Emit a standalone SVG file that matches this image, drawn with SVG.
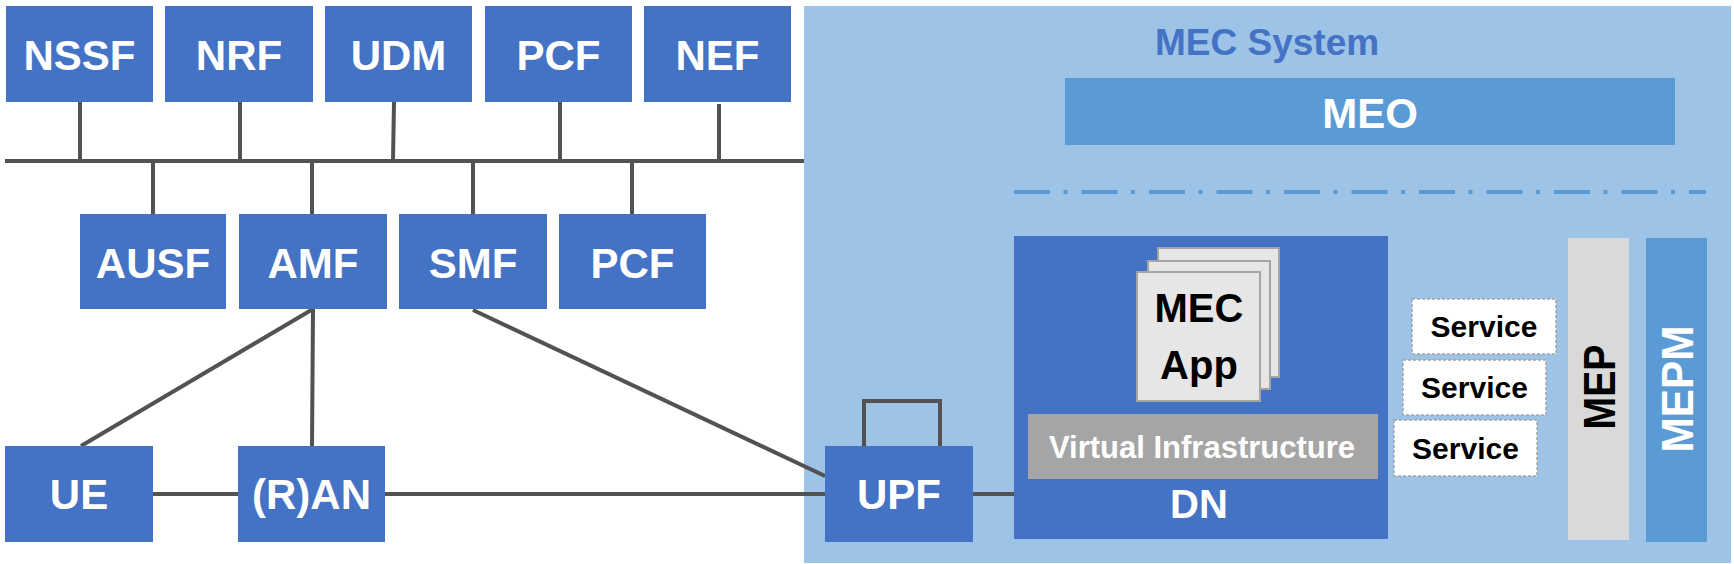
<svg xmlns="http://www.w3.org/2000/svg" width="1734" height="564" viewBox="0 0 1734 564">
<defs>
<style>
.nf{fill:#4472C4}
.lbl{font-family:"Liberation Sans",Arial,sans-serif;font-weight:bold;fill:#FFFFFF;text-anchor:middle;font-size:42px}
.blk{font-family:"Liberation Sans",Arial,sans-serif;font-weight:bold;fill:#000000;text-anchor:middle}
.con{stroke:#525252;stroke-width:4;fill:none}
.page{fill:#E7E6E6;stroke:#A5A5A5;stroke-width:2}
.svc{fill:#FFFFFF;stroke:#A5A5A5;stroke-width:1.5;stroke-dasharray:3 2}
</style>
</defs>
<rect id="mec-system-bg" x="804" y="6" width="927" height="557" fill="#9DC3E6"/>
<g id="connectors">
<line class="con" x1="5" y1="161" x2="804" y2="161"/>
<line class="con" x1="80" y1="102" x2="80" y2="161"/>
<line class="con" x1="240" y1="100" x2="240" y2="161"/>
<line class="con" x1="394" y1="102" x2="393" y2="161"/>
<line class="con" x1="560" y1="102" x2="560" y2="161"/>
<line class="con" x1="719" y1="104" x2="719" y2="161"/>
<line class="con" x1="153" y1="161" x2="153" y2="215"/>
<line class="con" x1="312" y1="161" x2="312" y2="214"/>
<line class="con" x1="473" y1="161" x2="473" y2="214"/>
<line class="con" x1="632" y1="161" x2="632" y2="214"/>
<line class="con" x1="313" y1="309" x2="81" y2="446"/>
<line class="con" x1="313" y1="309" x2="312" y2="446"/>
<line class="con" x1="473" y1="310" x2="825" y2="476"/>
<line class="con" x1="153" y1="494" x2="238" y2="494"/>
<line class="con" x1="385" y1="494" x2="825" y2="494"/>
<line class="con" x1="973" y1="494" x2="1014" y2="494"/>
<path class="con" d="M864,448 V401 H940 V451"/>
</g>
<g id="nssf"><rect class="nf" x="6" y="6" width="147" height="96"/><text class="lbl" x="79.5" y="70">NSSF</text></g>
<g id="nrf"><rect class="nf" x="165" y="6" width="148" height="96"/><text class="lbl" x="239" y="70">NRF</text></g>
<g id="udm"><rect class="nf" x="325" y="6" width="147" height="96"/><text class="lbl" x="398.5" y="70">UDM</text></g>
<g id="pcf-top"><rect class="nf" x="485" y="6" width="147" height="96"/><text class="lbl" x="558.5" y="70">PCF</text></g>
<g id="nef"><rect class="nf" x="644" y="6" width="147" height="96"/><text class="lbl" x="717.5" y="70">NEF</text></g>
<g id="ausf"><rect class="nf" x="80" y="214" width="146" height="95"/><text class="lbl" x="153" y="278">AUSF</text></g>
<g id="amf"><rect class="nf" x="239" y="214" width="148" height="95"/><text class="lbl" x="313" y="278">AMF</text></g>
<g id="smf"><rect class="nf" x="399" y="214" width="148" height="95"/><text class="lbl" x="473" y="278">SMF</text></g>
<g id="pcf-mid"><rect class="nf" x="559" y="214" width="147" height="95"/><text class="lbl" x="632.5" y="278">PCF</text></g>
<g id="ue"><rect class="nf" x="5" y="446" width="148" height="96"/><text class="lbl" x="79" y="509">UE</text></g>
<g id="ran"><rect class="nf" x="238" y="446" width="147" height="96"/><text class="lbl" x="311.5" y="509">(R)AN</text></g>
<g id="upf"><rect class="nf" x="825" y="446" width="148" height="96"/><text class="lbl" x="899" y="509">UPF</text></g>
<g id="mec-system-title"><text x="1155" y="55" font-family="Liberation Sans, Arial, sans-serif" font-weight="bold" font-size="37" fill="#4472C4">MEC System</text></g>
<g id="meo"><rect x="1065" y="78" width="610" height="67" fill="#5B9BD5"/><text class="lbl" x="1370" y="128">MEO</text></g>
<g id="separator"><line x1="1014" y1="192" x2="1706" y2="192" stroke="#5B9BD5" stroke-width="4" stroke-dasharray="36 13.5 4 14"/></g>
<g id="dn">
<rect class="nf" x="1014" y="236" width="374" height="303"/>
<rect class="page" x="1158" y="248" width="121" height="129"/>
<rect class="page" x="1148" y="261" width="122" height="128"/>
<rect class="page" x="1137" y="272" width="123" height="129"/>
<text class="blk" x="1199" y="322" font-size="40">MEC</text>
<text class="blk" x="1199" y="379" font-size="40">App</text>
<rect x="1028" y="414" width="350" height="65" fill="#A5A5A5"/>
<text class="lbl" x="1202" y="458" font-size="31" style="font-size:31px">Virtual Infrastructure</text>
<text class="lbl" x="1199" y="518" style="font-size:40px">DN</text>
</g>
<g id="service-1"><rect class="svc" x="1412" y="299" width="144" height="55"/><text class="blk" x="1484" y="337" font-size="30">Service</text></g>
<g id="service-2"><rect class="svc" x="1403" y="360" width="143" height="55"/><text class="blk" x="1474.5" y="398" font-size="30">Service</text></g>
<g id="service-3"><rect class="svc" x="1394" y="420" width="143" height="56"/><text class="blk" x="1465.5" y="459" font-size="30">Service</text></g>
<g id="mep"><rect x="1568" y="238" width="61" height="302" fill="#D9D9D9"/><text class="blk" transform="translate(1615,387) rotate(-90)" x="0" y="0" font-size="44" textLength="85" lengthAdjust="spacingAndGlyphs">MEP</text></g>
<g id="mepm"><rect x="1646" y="238" width="61" height="304" fill="#5B9BD5"/><text class="lbl" transform="translate(1693,389) rotate(-90)" x="0" y="0" style="font-size:45px" textLength="127" lengthAdjust="spacingAndGlyphs">MEPM</text></g>
</svg>
